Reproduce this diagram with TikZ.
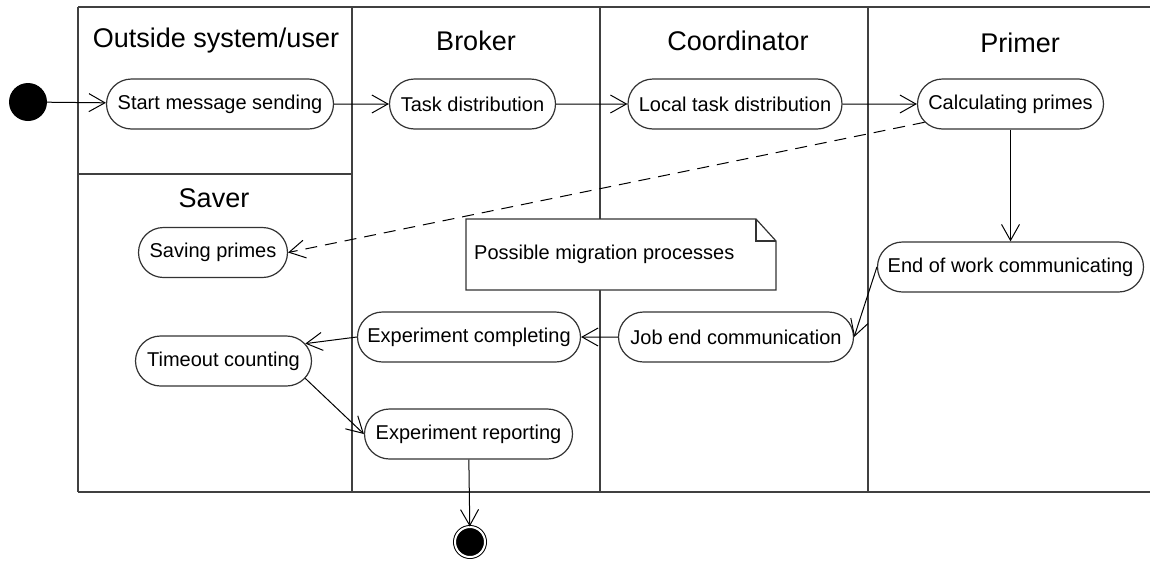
\documentclass[tikz,border=0pt]{standalone}
\usepackage{fontspec}
\setmainfont{Liberation Sans}
\usetikzlibrary{arrows.meta,shapes.misc}
\newlength{\du}
\setlength{\du}{1pt}
\definecolor{dialinecolor}{rgb}{0.000000, 0.000000, 0.000000}
\definecolor{lanecolor}{rgb}{0.250000, 0.250000, 0.250000}
\definecolor{boxcolor}{rgb}{0.200000, 0.200000, 0.200000}
\tikzset{
  lane/.style={draw=lanecolor, line width=2.000000\du},
  lanetitle/.style={anchor=base, inner sep=0pt, font=\fontsize{27}{32}\selectfont},
  activity/.style={rounded rectangle, draw=boxcolor, fill=white, line width=1.200000\du,
    minimum height=50.000000\du, inner xsep=-18.000000\du, font=\fontsize{20}{24}\selectfont},
  initialdot/.style={circle, fill=dialinecolor, minimum size=38.000000\du, inner sep=0pt},
  finaldot/.style={circle, draw=dialinecolor, fill=dialinecolor, double=white,
    double distance=2.000000\du, line width=1.000000\du, minimum size=30.000000\du, inner sep=0pt},
  flow/.style={draw=dialinecolor, line width=1.000000\du, -{Straight Barb[length=16pt,width=18pt]}},
  dependency/.style={flow, dash pattern=on 12.000000\du off 8.000000\du},
  notetext/.style={anchor=west, inner sep=0pt, font=\fontsize{20}{24}\selectfont},
}
\begin{document}
\begin{tikzpicture}
\pgftransformxscale{1.000000}
\pgftransformyscale{-1.000000}
\useasboundingbox (0.000000\du,0.000000\du) rectangle (1150.000000\du,560.000000\du);
% swimlanes
\draw[lane] (78.000000\du,7.000000\du)--(1150.000000\du,7.000000\du);
\draw[lane] (78.000000\du,492.000000\du)--(1150.000000\du,492.000000\du);
\draw[lane] (78.000000\du,7.000000\du)--(78.000000\du,492.000000\du);
\draw[lane] (352.000000\du,7.000000\du)--(352.000000\du,492.000000\du);
\draw[lane] (600.000000\du,7.000000\du)--(600.000000\du,492.000000\du);
\draw[lane] (868.000000\du,7.000000\du)--(868.000000\du,492.000000\du);
\draw[lane] (78.000000\du,174.000000\du)--(352.000000\du,174.000000\du);
\node[lanetitle] (outside) at (216.000000\du,47.000000\du){Outside system/user};
\node[lanetitle] (broker) at (476.000000\du,50.000000\du){Broker};
\node[lanetitle] (coordinator) at (738.000000\du,50.000000\du){Coordinator};
\node[lanetitle] (primer) at (1020.000000\du,52.000000\du){Primer};
\node[lanetitle] (saver) at (214.000000\du,207.000000\du){Saver};
% note
\filldraw[draw=boxcolor, fill=white, line width=1.200000\du] (466.000000\du,219.000000\du)--(756.000000\du,219.000000\du)--(776.000000\du,241.000000\du)--(776.000000\du,290.000000\du)--(466.000000\du,290.000000\du)--cycle;
\draw[draw=boxcolor, line width=1.200000\du] (756.000000\du,219.000000\du)--(756.000000\du,241.000000\du)--(776.000000\du,241.000000\du);
\node[notetext] (note) at (474.000000\du,254.000000\du){Possible migration processes};
% activities
\node[initialdot] (start) at (28.000000\du,102.000000\du){};
\node[activity, minimum width=191.000000\du] (sms) at (220.000000\du,104.000000\du){Start message sending};
\node[activity, minimum width=130.000000\du] (td) at (472.500000\du,104.000000\du){Task distribution};
\node[activity, minimum width=178.000000\du] (ltd) at (735.000000\du,104.000000\du){Local task distribution};
\node[activity, minimum width=150.000000\du] (cp) at (1010.500000\du,104.000000\du){Calculating primes};
\node[activity, minimum width=230.000000\du] (ewc) at (1010.500000\du,267.000000\du){End of work communicating};
\node[activity, minimum width=113.000000\du] (sp) at (213.000000\du,252.500000\du){Saving primes};
\node[activity, minimum width=187.000000\du] (ec) at (469.000000\du,337.000000\du){Experiment completing};
\node[activity, minimum width=199.000000\du] (jec) at (736.000000\du,337.000000\du){Job end communication};
\node[activity, minimum width=140.000000\du] (tc) at (223.500000\du,361.000000\du){Timeout counting};
\node[activity, minimum width=172.000000\du] (er) at (468.500000\du,434.000000\du){Experiment reporting};
\node[finaldot] (final) at (470.000000\du,542.000000\du){};
% transitions
\draw[flow] (start)--(sms);
\draw[flow] (sms)--(td);
\draw[flow] (td)--(ltd);
\draw[flow] (ltd)--(cp);
\draw[flow] (cp.south)--(ewc.north);
\draw[flow] (ewc.west)--(jec.east);
\draw[flow] (jec)--(ec);
\draw[flow] (ec.west)--(tc.12);
\draw[flow] (tc.-12)--(er.west);
\draw[flow] (er)--(final);
\draw[dependency] (cp.192)--(sp.east);
\end{tikzpicture}
\end{document}
